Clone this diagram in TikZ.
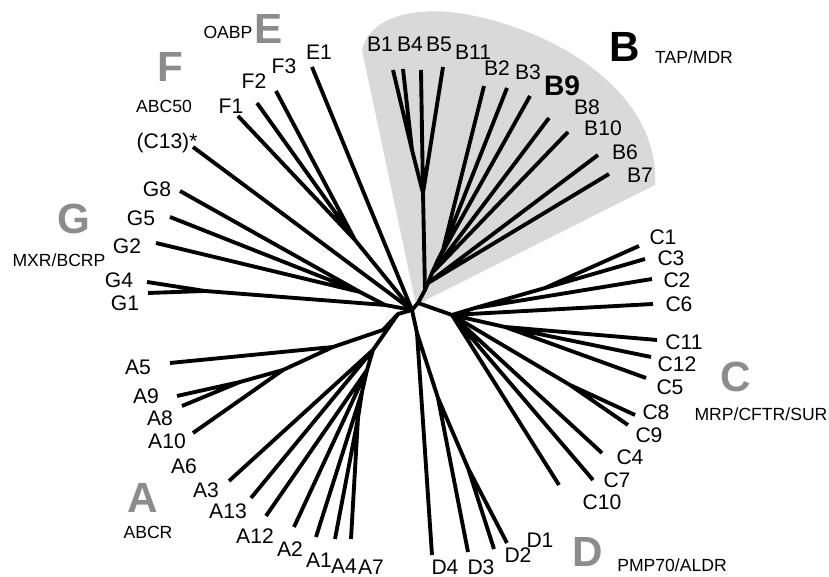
\documentclass[tikz,border=0pt]{standalone}
\usepackage{fontspec}
\setmainfont{Liberation Sans}
\tikzset{
  branch/.style={line width=1.1pt, line join=round},
  leaf/.style={inner sep=0pt, font=\fontsize{6}{7}\selectfont},
  famletter/.style={inner sep=0pt, font=\fontsize{12}{14}\selectfont\bfseries, text=black!45},
  famname/.style={inner sep=0pt, font=\fontsize{5}{6}\selectfont},
}
\begin{document}
\begin{tikzpicture}[x=0.01cm,y=-0.01cm]
\useasboundingbox (0,0) rectangle (829,577);
% shaded B clade
\fill[black!15] (416,305) -- (362,50) .. controls (370,15) and (420,5) .. (470,15)
  .. controls (570,35) and (660,100) .. (655,185) -- cycle;

% inner points of the tree
\coordinate (O) at (412,310);
\coordinate (J1) at (418,303);
\coordinate (nB) at (425,290);
\coordinate (nB6) at (428,283);
\coordinate (nB8) at (432,273);
\coordinate (nB9) at (437,262);
\coordinate (nB2) at (443,250);
\coordinate (nB145) at (423,193);
\coordinate (nB14) at (412,150);
\coordinate (nC) at (452,315);
\coordinate (nC2) at (475,308);
\coordinate (nC13) at (545,288);
\coordinate (nC11) at (505,327);
\coordinate (nC89) at (570,385);
\coordinate (nD) at (417,333);
\coordinate (nD3) at (438,398);
\coordinate (nD12) at (468,468);
\coordinate (nA) at (398,314);
\coordinate (nA1) at (383,330);
\coordinate (nA5) at (333,347);
\coordinate (nA10) at (283,370);
\coordinate (nA98) at (240,382);
\coordinate (nA3) at (373,350);
\coordinate (nA2) at (367,370);
\coordinate (nA1x) at (362,392);
\coordinate (nA47) at (358,418);
\coordinate (nG) at (385,305);
\coordinate (nG2) at (360,292);
\coordinate (nG41) at (205,291);
\coordinate (nF) at (355,240);

% leaf ends
\coordinate (tB1) at (393,70);   \coordinate (tB4) at (403,69);
\coordinate (tB5) at (421,70);   \coordinate (tB11) at (443,67);
\coordinate (tB2) at (484,86);   \coordinate (tB3) at (507,88);
\coordinate (tB9) at (530,96);   \coordinate (tB8) at (549,118);
\coordinate (tB10) at (568,132); \coordinate (tB6) at (598,155);
\coordinate (tB7) at (609,174);
\coordinate (tC1) at (639,246);  \coordinate (tC3) at (645,259);
\coordinate (tC2) at (652,279);  \coordinate (tC6) at (653,304);
\coordinate (tC11) at (657,340); \coordinate (tC12) at (651,357);
\coordinate (tC5) at (646,378);  \coordinate (tC8) at (635,415);
\coordinate (tC9) at (628,425);  \coordinate (tC4) at (602,453);
\coordinate (tC7) at (593,480);  \coordinate (tC10) at (559,485);
\coordinate (tD4) at (432,555);  \coordinate (tD3) at (468,552);
\coordinate (tD2) at (494,549);  \coordinate (tD1) at (507,543);
\coordinate (tA5) at (170,363);  \coordinate (tA9) at (177,396);
\coordinate (tA8) at (182,406);  \coordinate (tA10) at (193,433);
\coordinate (tA3) at (229,481);  \coordinate (tA13) at (251,498);
\coordinate (tA12) at (266,516); \coordinate (tA2) at (294,527);
\coordinate (tA1) at (316,537);  \coordinate (tA4) at (335,539);
\coordinate (tA7) at (351,539);
\coordinate (tG8) at (180,191);  \coordinate (tG5) at (170,217);
\coordinate (tG2) at (156,243);  \coordinate (tG4) at (147,282);
\coordinate (tG1) at (148,293);  \coordinate (tC13) at (193,147);
\coordinate (tF1) at (238,116);  \coordinate (tF2) at (257,103);
\coordinate (tF3) at (276,91);   \coordinate (tE1) at (312,67);

% branches
\draw[branch] (O) -- (J1) -- (nB) -- (nB6) -- (nB8) -- (nB9) -- (nB2);
\draw[branch] (nB) -- (nB145) -- (nB14) -- (tB1) (nB14) -- (tB4);
\draw[branch] (nB145) -- (tB5) (nB145) -- (tB11);
\draw[branch] (nB2) -- (tB2) (nB2) -- (tB3) (nB9) -- (tB9);
\draw[branch] (nB8) -- (tB8) (nB8) -- (tB10) (nB6) -- (tB6) (nB6) -- (tB7);
\draw[branch] (J1) -- (nC) -- (nC2) -- (nC13) -- (tC1) (nC13) -- (tC3) (nC2) -- (tC2);
\draw[branch] (nC) -- (tC6) (nC) -- (nC11) -- (tC11) (nC11) -- (tC12) (nC11) -- (tC5);
\draw[branch] (nC) -- (nC89) -- (tC8) (nC89) -- (tC9);
\draw[branch] (nC) -- (tC4) (nC) -- (tC7) (nC) -- (tC10);
\draw[branch] (O) -- (nD) -- (tD4) (nD) -- (nD3) -- (tD3) (nD3) -- (nD12) -- (tD2) (nD12) -- (tD1);
\draw[branch] (O) -- (nA) -- (nA1) -- (nA5) -- (tA5) (nA5) -- (nA10) -- (tA10);
\draw[branch] (nA10) -- (nA98) -- (tA9) (nA98) -- (tA8);
\draw[branch] (nA) -- (nA3) -- (tA3) (nA3) -- (tA13) (nA3) -- (nA2) -- (tA12) (nA2) -- (tA2);
\draw[branch] (nA2) -- (nA1x) -- (tA1) (nA1x) -- (nA47) -- (tA4) (nA47) -- (tA7);
\draw[branch] (O) -- (nG) -- (nG2) -- (tG8) (nG2) -- (tG5) (nG2) -- (tG2);
\draw[branch] (nG) -- (nG41) -- (tG4) (nG41) -- (tG1);
\draw[branch] (O) -- (tC13);
\draw[branch] (O) -- (nF) -- (tF1) (nF) -- (tF2) (nF) -- (tF3);
\draw[branch] (O) -- (tE1);

% leaf labels
\node[leaf] (lB1) at (380,44) {B1};
\node[leaf] (lB4) at (410,44) {B4};
\node[leaf] (lB5) at (439,44) {B5};
\node[leaf] (lB11) at (473,52) {B11};
\node[leaf] (lB2) at (497,68) {B2};
\node[leaf] (lB3) at (528,72) {B3};
\node[leaf, font=\fontsize{8}{9}\selectfont\bfseries] (lB9) at (562,86) {B9};
\node[leaf] (lB8) at (587,107) {B8};
\node[leaf] (lB10) at (603,128) {B10};
\node[leaf] (lB6) at (625,152) {B6};
\node[leaf] (lB7) at (640,175) {B7};
\node[leaf] (lC1) at (663,237) {C1};
\node[leaf] (lC3) at (671,258) {C3};
\node[leaf] (lC2) at (677,280) {C2};
\node[leaf] (lC6) at (679,304) {C6};
\node[leaf] (lC11) at (684,342) {C11};
\node[leaf] (lC12) at (677,364) {C12};
\node[leaf] (lC5) at (670,387) {C5};
\node[leaf] (lC8) at (656,412) {C8};
\node[leaf] (lC9) at (649,435) {C9};
\node[leaf] (lC4) at (630,457) {C4};
\node[leaf] (lC7) at (617,480) {C7};
\node[leaf] (lC10) at (602,502) {C10};
\node[leaf] (lD1) at (540,540) {D1};
\node[leaf] (lD2) at (518,555) {D2};
\node[leaf] (lD3) at (481,567) {D3};
\node[leaf] (lD4) at (445,567) {D4};
\node[leaf] (lA7) at (371,567) {A7};
\node[leaf] (lA4) at (344,566) {A4};
\node[leaf] (lA1) at (319,560) {A1};
\node[leaf] (lA2) at (290,549) {A2};
\node[leaf] (lA12) at (255,536) {A12};
\node[leaf] (lA13) at (228,511) {A13};
\node[leaf] (lA3) at (206,490) {A3};
\node[leaf] (lA6) at (184,466) {A6};
\node[leaf] (lA10) at (167,441) {A10};
\node[leaf] (lA8) at (160,418) {A8};
\node[leaf] (lA9) at (146,396) {A9};
\node[leaf] (lA5) at (138,367) {A5};
\node[leaf] (lG1) at (125,303) {G1};
\node[leaf] (lG4) at (119,280) {G4};
\node[leaf] (lG2) at (127,246) {G2};
\node[leaf] (lG5) at (141,218) {G5};
\node[leaf] (lG8) at (157,189) {G8};
\node[leaf] (lC13) at (167,143) {(C13)*};
\node[leaf] (lF1) at (231,106) {F1};
\node[leaf] (lF2) at (254,81) {F2};
\node[leaf] (lF3) at (284,66) {F3};
\node[leaf] (lE1) at (319,52) {E1};

% subfamilies
\node[famletter, text=black] (fB) at (625,47) {B};
\node[famname] (nmB) at (694,57) {TAP/MDR};
\node[famletter] (fC) at (736,377) {C};
\node[famname] (nmC) at (761,414) {MRP/CFTR/SUR};
\node[famletter] (fD) at (588,552) {D};
\node[famname] (nmD) at (672,565) {PMP70/ALDR};
\node[famletter] (fA) at (143,498) {A};
\node[famname] (nmA) at (148,532) {ABCR};
\node[famletter] (fG) at (74,219) {G};
\node[famname] (nmG) at (59,260) {MXR/BCRP};
\node[famletter] (fF) at (170,67) {F};
\node[famname] (nmF) at (164,106) {ABC50};
\node[famletter] (fE) at (269,29) {E};
\node[famname] (nmE) at (228,32) {OABP};
\end{tikzpicture}
\end{document}
